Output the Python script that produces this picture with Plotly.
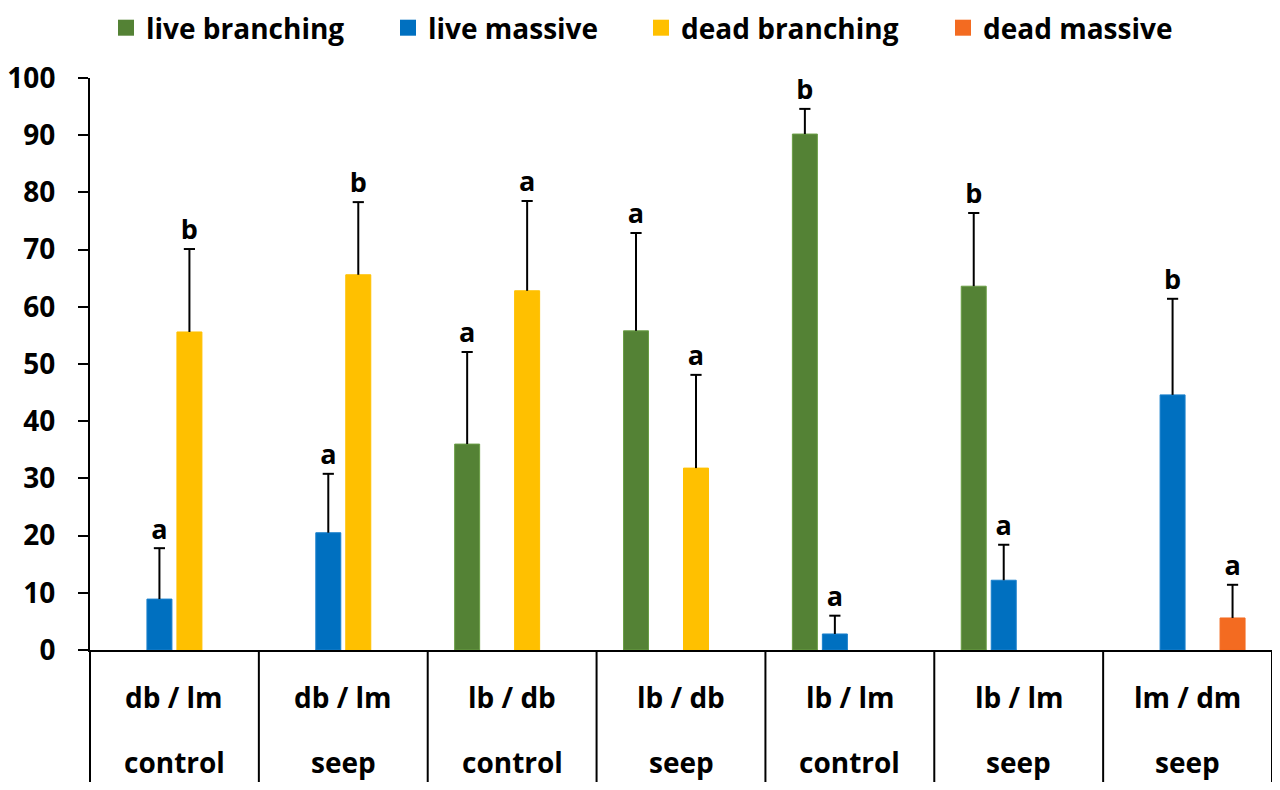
import plotly.graph_objects as go

# ---- data ----
groups_top = ["db / lm", "db / lm", "lb / db", "lb / db", "lb / lm", "lb / lm", "lm / dm"]
groups_bottom = ["control", "seep", "control", "seep", "control", "seep", "seep"]

series_names = ["live branching", "live massive", "dead branching", "dead massive"]

live_branching = [None, None, 36.0, 55.8, 90.2, 63.6, None]
live_branching_err = [None, None, 16.1, 17.1, 4.4, 12.8, None]
live_branching_sig = [None, None, "a", "a", "b", "b", None]

live_massive = [8.9, 20.5, None, None, 2.8, 12.2, 44.6]
live_massive_err = [8.9, 10.3, None, None, 3.2, 6.2, 16.8]
live_massive_sig = ["a", "a", None, None, "a", "a", "b"]

dead_branching = [55.6, 65.6, 62.8, 31.8, None, None, None]
dead_branching_err = [14.5, 12.7, 15.7, 16.3, None, None, None]
dead_branching_sig = ["b", "b", "a", "a", None, None, None]

dead_massive = [None, None, None, None, None, None, 5.6]
dead_massive_err = [None, None, None, None, None, None, 5.8]
dead_massive_sig = [None, None, None, None, None, None, "a"]

y_ticks = [0, 10, 20, 30, 40, 50, 60, 70, 80, 90, 100]

colors = ["#548235", "#0070C0", "#FFC000", "#F36B21"]
edge_colors = ["#6A9E45", "#1A80CC", "#FFC000", "#F36B21"]

values = [live_branching, live_massive, dead_branching, dead_massive]
errors = [live_branching_err, live_massive_err, dead_branching_err, dead_massive_err]
sigs = [live_branching_sig, live_massive_sig, dead_branching_sig, dead_massive_sig]

# legend symbol centres (px, figure coords)
legend_px = [118, 400, 653, 955]

FONT = "Open Sans"
n_groups = len(groups_top)
n_series = len(series_names)
slot_w = 0.1776
bar_w = 0.148

# the page body adds an 8px margin, so the figure is sized to fit the window
FIG_W, FIG_H = 1272, 782
ML, MR, MT, MB = 82, 8, 70, 140
plot_w = FIG_W - ML - MR
plot_h = FIG_H - MT - MB

fig = go.Figure()

for k in range(n_series):
    xs = [i + (k - (n_series - 1) / 2) * slot_w for i in range(n_groups)]
    fig.add_trace(go.Bar(
        x=xs, y=values[k], width=bar_w, name=series_names[k], showlegend=False,
        marker=dict(color=colors[k], line=dict(color=edge_colors[k], width=1)),
        error_y=dict(type="data", symmetric=False, array=errors[k],
                     arrayminus=[0] * n_groups, width=0, thickness=2,
                     color="black"),
    ))

for k in range(n_series):
    cx, cy, ct = [], [], []
    for i in range(n_groups):
        if values[k][i] is None:
            continue
        cx.append(i + (k - (n_series - 1) / 2) * slot_w)
        cy.append(values[k][i] + errors[k][i])
        ct.append(sigs[k][i])
    # error-bar caps
    fig.add_trace(go.Scatter(
        x=cx, y=cy, mode="markers",
        marker=dict(symbol="line-ew", size=8, color="black",
                    line=dict(color="black", width=2)),
        showlegend=False, hoverinfo="skip", cliponaxis=False,
    ))
    # significance letters (transparent marker only sets the text offset)
    fig.add_trace(go.Scatter(
        x=cx, y=cy, mode="markers+text", text=ct, textposition="top center",
        textfont=dict(family=FONT, size=27, color="black", weight="bold"),
        marker=dict(size=3, color="rgba(0,0,0,0)"),
        showlegend=False, hoverinfo="skip", cliponaxis=False,
    ))

# legend entries (one legend per series so each can sit where the reference has it)
legend_layouts = {}
for k in range(n_series):
    lname = "legend" if k == 0 else f"legend{k + 1}"
    fig.add_trace(go.Scatter(
        x=[None], y=[None], mode="markers", name=series_names[k],
        marker=dict(symbol="square", size=16, color=colors[k]),
        showlegend=True, legend=lname, hoverinfo="skip",
    ))
    legend_layouts[lname] = dict(
        orientation="h", x=(legend_px[k] - 20 - ML) / plot_w, xanchor="left",
        y=(plot_h + MT - 20) / plot_h, yanchor="middle",
        font=dict(family=FONT, size=28, color="black", weight="bold"),
        itemwidth=30, bgcolor="rgba(0,0,0,0)", borderwidth=0,
    )

annotations = []
for i in range(n_groups):
    annotations.append(dict(x=i, xref="x", y=0, yref="paper", yshift=-47,
                            yanchor="middle", text=groups_top[i], showarrow=False,
                            font=dict(family=FONT, size=28, color="black", weight="bold")))
    annotations.append(dict(x=i, xref="x", y=0, yref="paper", yshift=-112,
                            yanchor="middle", text=groups_bottom[i], showarrow=False,
                            font=dict(family=FONT, size=28, color="black", weight="bold")))

shapes = []
for i in range(n_groups + 1):
    shapes.append(dict(type="line", xref="paper", yref="paper",
                       x0=i / n_groups, x1=i / n_groups, y0=0, y1=-132 / plot_h,
                       line=dict(color="black", width=2)))

fig.update_layout(
    width=FIG_W, height=FIG_H,
    margin=dict(l=ML, r=MR, t=MT, b=MB, autoexpand=False),
    paper_bgcolor="white", plot_bgcolor="white",
    barmode="overlay",
    showlegend=True,
    xaxis=dict(range=[-0.5, n_groups - 0.5], showline=True, linecolor="black",
               linewidth=2, showgrid=False, zeroline=False, showticklabels=False,
               ticks="", automargin=False),
    yaxis=dict(range=[0, 100], tickvals=y_ticks, showline=True, linecolor="black",
               linewidth=2, showgrid=False, zeroline=False, ticks="outside",
               ticklen=10, tickwidth=2, tickcolor="black", ticklabelstandoff=17,
               automargin=False,
               tickfont=dict(family=FONT, size=28, color="black", weight="bold")),
    annotations=annotations,
    shapes=shapes,
    **legend_layouts,
)

fig.write_html("out.html")
